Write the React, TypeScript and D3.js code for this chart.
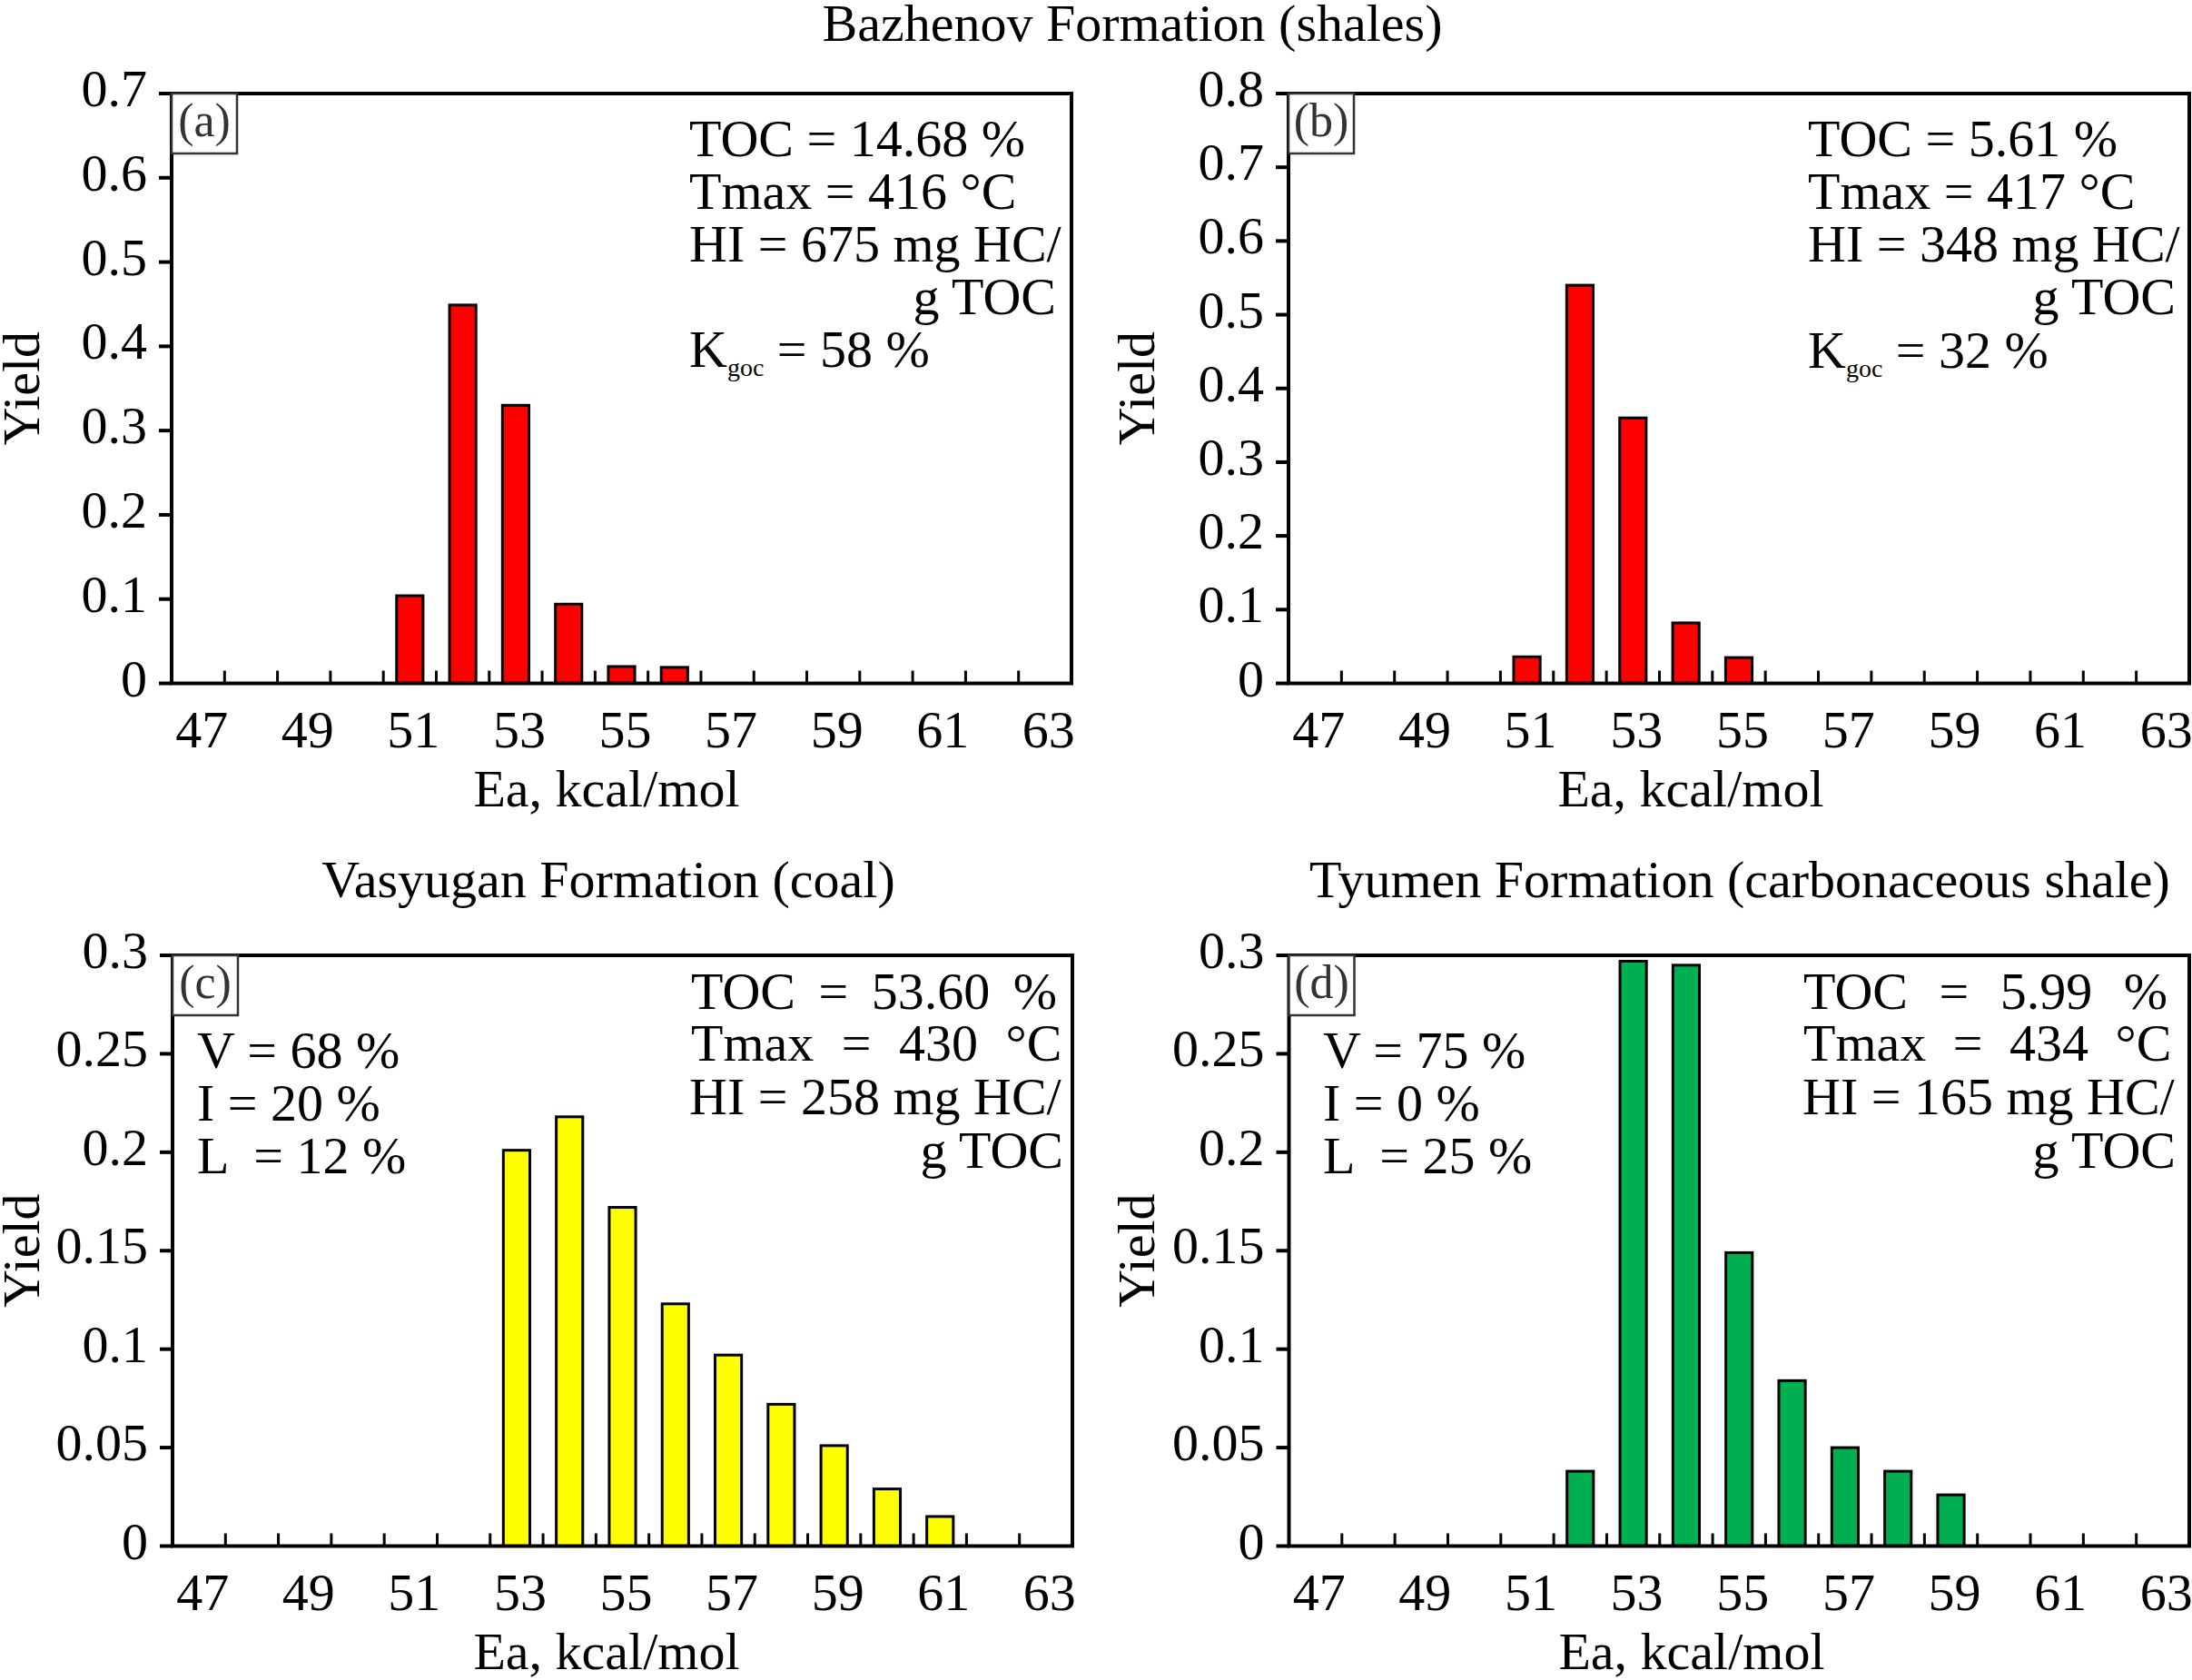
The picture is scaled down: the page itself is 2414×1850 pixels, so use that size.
import * as d3 from "d3";

const FONT = "'Liberation Serif', 'Times New Roman', serif";
const FS = 58;

// activation energy bins (kcal/mol) and yields
const eaA = [51, 52, 53, 54, 55, 56];
const yieldA = [0.104, 0.449, 0.33, 0.094, 0.02, 0.019];

const eaB = [51, 52, 53, 54, 55];
const yieldB = [0.036, 0.54, 0.36, 0.082, 0.035];

const eaC = [53, 54, 55, 56, 57, 58, 59, 60, 61];
const yieldC = [0.201, 0.218, 0.172, 0.123, 0.097, 0.072, 0.051, 0.029, 0.015];

const eaD = [52, 53, 54, 55, 56, 57, 58, 59];
const yieldD = [0.038, 0.297, 0.295, 0.149, 0.084, 0.05, 0.038, 0.026];

const xLabels = [47, 49, 51, 53, 55, 57, 59, 61, 63];
const binEdges = d3.range(47.5, 63, 1);

const fmt = (d) => (d === 0 ? "0" : d3.format(".2~f")(d));

const Panel = ({ x0, x1, top, bottom, ymax, nTicks, ea, values, color, label, notes, left, kgoc, xLabelX, yieldX }) => {
  const x = d3.scaleLinear().domain([46.5, 63.5]).range([x0, x1]);
  const y = d3.scaleLinear().domain([0, ymax]).range([bottom, top]);
  const yTicks = y.ticks(nTicks);

  return (
    <g fontFamily={FONT} fill="#000">
      {/* inward ticks on bin edges */}
      {binEdges.map((e) => (
        <line key={e} x1={x(e)} x2={x(e)} y1={bottom} y2={bottom - 14} stroke="#000" strokeWidth={3} />
      ))}
      {ea.map((e, i) => (
        <rect
          key={e}
          x={x(e - 0.25)}
          y={y(values[i])}
          width={x(e + 0.25) - x(e - 0.25)}
          height={bottom - y(values[i])}
          fill={color}
          stroke="#000"
          strokeWidth={3}
        />
      ))}
      <rect x={x0} y={top} width={x1 - x0} height={bottom - top} fill="none" stroke="#000" strokeWidth={4} />
      {yTicks.map((t) => (
        <g key={t}>
          <line x1={x0 - 14} x2={x0} y1={y(t)} y2={y(t)} stroke="#000" strokeWidth={4} />
          <text x={x0 - 27} y={y(t) + 14} fontSize={FS} textAnchor="end">
            {fmt(t)}
          </text>
        </g>
      ))}
      {xLabels.map((v) => (
        <text key={v} x={x(v) + 4} y={bottom + 70} fontSize={FS} textAnchor="middle">
          {v}
        </text>
      ))}
      <text x={xLabelX} y={bottom + 135} fontSize={FS} textAnchor="middle">
        Ea, kcal/mol
      </text>
      <text transform={`translate(${yieldX},${(top + bottom) / 2}) rotate(-90)`} fontSize={FS} textAnchor="middle">
        Yield
      </text>

      {/* panel letter */}
      <rect x={x0} y={top} width={72} height={66} fill="#fff" stroke="#333" strokeWidth={2.5} />
      <text x={x0 + 36} y={top + 47} fontSize={52} textAnchor="middle" fill="#333">
        {label}
      </text>

      {notes.map((n, i) => (
        <text
          key={i}
          x={n.x}
          y={n.y}
          fontSize={FS}
          textAnchor={n.anchor || "start"}
          style={{ whiteSpace: "pre", wordSpacing: n.ws ? `${n.ws}px` : undefined }}
        >
          {n.t}
        </text>
      ))}
      {kgoc && (
        <text x={kgoc.x} y={kgoc.y} fontSize={FS} style={{ whiteSpace: "pre" }}>
          K
          <tspan fontSize={28} dy={10}>
            goc
          </tspan>
          <tspan dy={-10}>{` = ${kgoc.v} %`}</tspan>
        </text>
      )}
      {left &&
        left.map((t, i) => (
          <text key={t} x={left.x} y={left.y0 + i * 58} fontSize={FS} style={{ whiteSpace: "pre" }}>
            {t}
          </text>
        ))}
    </g>
  );
};

const withPos = (arr, x, y0) => Object.assign(arr, { x, y0 });

const App = () => {
  return (
    <svg
      width={2414}
      height={1850}
      style={{ position: "absolute", left: 0, top: 0, background: "#fff" }}
    >
      <text x={1247} y={45} fontFamily={FONT} fontSize={FS} textAnchor="middle">
        Bazhenov Formation (shales)
      </text>
      <text x={670} y={988} fontFamily={FONT} fontSize={FS} textAnchor="middle">
        Vasyugan Formation (coal)
      </text>
      <text x={1916} y={988} fontFamily={FONT} fontSize={FS} textAnchor="middle">
        Tyumen Formation (carbonaceous shale)
      </text>

      <Panel
        x0={189}
        x1={1180}
        top={103}
        bottom={752.5}
        ymax={0.7}
        nTicks={7}
        ea={eaA}
        values={yieldA}
        color="#ff0000"
        label="(a)"
        xLabelX={668}
        yieldX={43}
        notes={[
          { t: "TOC = 14.68 %", x: 759, y: 172 },
          { t: "Tmax = 416 °C", x: 759, y: 230 },
          { t: "HI = 675 mg HC/", x: 759, y: 288 },
          { t: "g TOC", x: 1163, y: 346, anchor: "end" },
        ]}
        kgoc={{ x: 759, y: 404, v: 58 }}
      />
      <Panel
        x0={1419}
        x1={2411}
        top={103}
        bottom={752.5}
        ymax={0.8}
        nTicks={8}
        ea={eaB}
        values={yieldB}
        color="#ff0000"
        label="(b)"
        xLabelX={1862}
        yieldX={1271}
        notes={[
          { t: "TOC = 5.61 %", x: 1991, y: 172 },
          { t: "Tmax = 417 °C", x: 1991, y: 230 },
          { t: "HI = 348 mg HC/", x: 1991, y: 288 },
          { t: "g TOC", x: 2396, y: 346, anchor: "end" },
        ]}
        kgoc={{ x: 1991, y: 405, v: 32 }}
      />
      <Panel
        x0={190}
        x1={1181}
        top={1052}
        bottom={1702.5}
        ymax={0.3}
        nTicks={6}
        ea={eaC}
        values={yieldC}
        color="#ffff00"
        label="(c)"
        xLabelX={668}
        yieldX={43}
        notes={[
          { t: "TOC = 53.60 %", x: 761, y: 1111, ws: 11 },
          { t: "Tmax = 430 °C", x: 761, y: 1168, ws: 16 },
          { t: "HI = 258 mg HC/", x: 759, y: 1227 },
          { t: "g TOC", x: 1171, y: 1286, anchor: "end" },
        ]}
        left={withPos(["V = 68 %", "I = 20 %", "L  = 12 %"], 217, 1176)}
      />
      <Panel
        x0={1419.5}
        x1={2411}
        top={1052}
        bottom={1702.5}
        ymax={0.3}
        nTicks={6}
        ea={eaD}
        values={yieldD}
        color="#00b050"
        label="(d)"
        xLabelX={1863}
        yieldX={1271}
        notes={[
          { t: "TOC = 5.99 %", x: 1986, y: 1111, ws: 20 },
          { t: "Tmax = 434 °C", x: 1986, y: 1168, ws: 15 },
          { t: "HI = 165 mg HC/", x: 1985, y: 1227 },
          { t: "g TOC", x: 2396, y: 1286, anchor: "end" },
        ]}
        left={withPos(["V = 75 %", "I = 0 %", "L  = 25 %"], 1457, 1176)}
      />
    </svg>
  );
};

export default App;
